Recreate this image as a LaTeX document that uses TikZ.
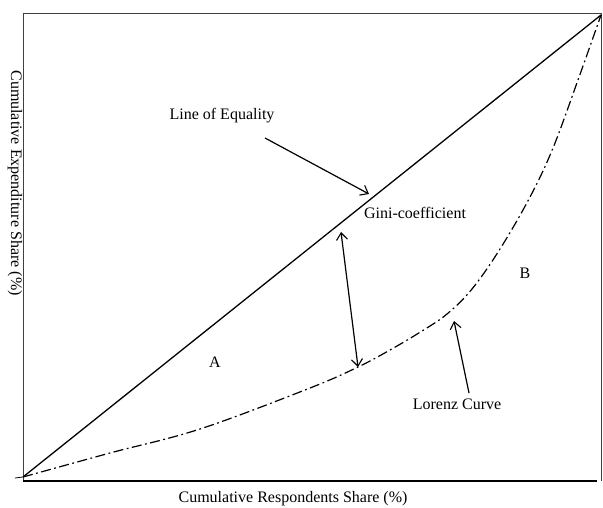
\documentclass[tikz,border=0pt]{standalone}
\usepackage{fontspec}
\setmainfont{Liberation Serif}
\usetikzlibrary{arrows.meta}
\begin{document}
\begin{tikzpicture}[x=1pt,y=-1pt,
  lbl/.style={font=\fontsize{16}{18}\selectfont, inner sep=0pt},
  pointer/.style={line width=1.2pt, -{Straight Barb[length=7pt,width=11pt,line width=1.1pt]}},
  frame/.style={line width=0.8pt, black!75},
  curve/.style={line width=1.2pt, dash pattern=on 10pt off 3.5pt on 1.8pt off 3.5pt}]
\useasboundingbox (0,0) rectangle (603,508);
% frame
\coordinate (tl) at (23,13);
\coordinate (tr) at (601,13);
\coordinate (bl) at (23,481);
\coordinate (br) at (601,481);
\draw[frame] (bl) -- (tl) -- (tr) -- (br);
\draw[line width=1.2pt] (bl) -- (597,481);
\coordinate (o) at (23,477);
\coordinate (top) at (601,15);
\coordinate (tick) at (15,478);
\draw[line width=0.8pt] (tick) -- (o);
% line of equality
\draw[line width=1.3pt] (o) -- (top);
% Lorenz curve
\draw[curve] plot[smooth, tension=0.6] coordinates {(23,477) (110,453) (200,429) (310,388) (358,367) (390,350) (422,331) (447,314) (472,289) (500,249) (530,197) (553,148) (578,80) (601,15)};
% labels
\node[lbl] (loe) at (222,116) {Line of Equality};
\node[lbl] (gini) at (415,213) {Gini-coefficient};
\node[lbl] (lor) at (457,404) {Lorenz Curve};
\node[lbl] (A) at (215,362) {A};
\node[lbl] (B) at (525,273) {B};
\node[lbl] (xl) at (293,499) {Cumulative Respondents Share (\%)};
\node[lbl, rotate=-90] (yl) at (15,183) {Cumulative Expenditure Share (\%)};
% arrows
\coordinate (loeT) at (265,138);
\coordinate (loeH) at (369,194);
\draw[pointer] (loeT) -- (loeH);
\coordinate (gU) at (341,232);
\coordinate (gD) at (358,367);
\draw[pointer, {Straight Barb[length=7pt,width=11pt,line width=1.1pt]}-{Straight Barb[length=7pt,width=11pt,line width=1.1pt]}] (gU) -- (gD);
\coordinate (lorT) at (469,393);
\coordinate (lorH) at (454,321);
\draw[pointer] (lorT) -- (lorH);
\end{tikzpicture}
\end{document}
